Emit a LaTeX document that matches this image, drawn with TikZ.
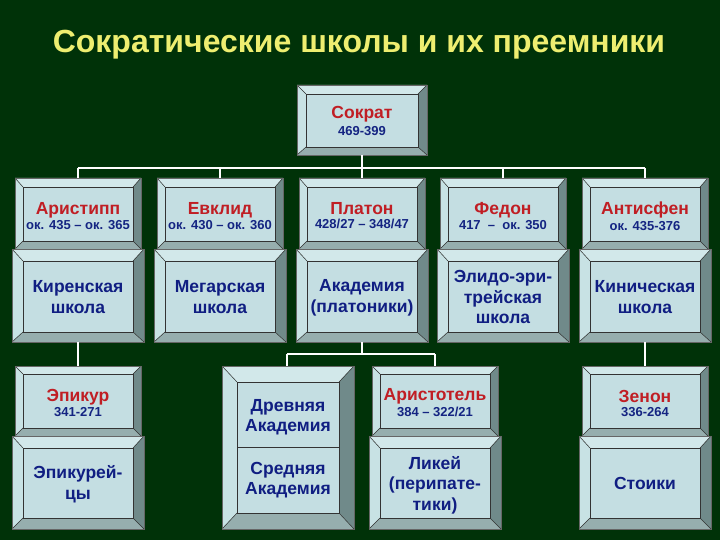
\documentclass[tikz,border=0pt]{standalone}
\usepackage{fontspec}
\setmainfont{Liberation Sans}
\usetikzlibrary{fit}
\definecolor{bg}{RGB}{0,50,8}
\definecolor{titlec}{RGB}{238,238,112}
\definecolor{facec}{RGB}{196,222,226}
\definecolor{btop}{RGB}{210,232,234}
\definecolor{bleft}{RGB}{200,226,228}
\definecolor{bright}{RGB}{112,138,138}
\definecolor{bbot}{RGB}{150,174,174}
\definecolor{namec}{RGB}{192,30,36}
\definecolor{datec}{RGB}{20,36,130}
\definecolor{schoolc}{RGB}{16,30,130}
\newcommand\nmf{\fontsize{17.5}{19}\selectfont\bfseries\color{namec}}
\newcommand\dtf{\fontsize{13}{15}\selectfont\bfseries\color{datec}}
\newcommand\scf{\fontsize{17.5}{20.5}\selectfont\bfseries\color{schoolc}}
\newcommand\bev[8]{%
  \fill[btop] (#2,#3) -- (#4,#3) -- ({#4-#6},{#3+#7}) -- ({#2+#6},{#3+#7}) -- cycle;
  \fill[bleft] (#2,#3) -- ({#2+#6},{#3+#7}) -- ({#2+#6},{#5-#8}) -- (#2,#5) -- cycle;
  \fill[bright] (#4,#3) -- ({#4-#6},{#3+#7}) -- ({#4-#6},{#5-#8}) -- (#4,#5) -- cycle;
  \fill[bbot] (#2,#5) -- ({#2+#6},{#5-#8}) -- ({#4-#6},{#5-#8}) -- (#4,#5) -- cycle;
  \draw[edge,fill=facec] ({#2+#6},{#3+#7}) rectangle ({#4-#6},{#5-#8});
  \draw[edge] (#2,#3) -- ({#2+#6},{#3+#7}) (#4,#3) -- ({#4-#6},{#3+#7})
              (#2,#5) -- ({#2+#6},{#5-#8}) (#4,#5) -- ({#4-#6},{#5-#8});
  \draw[outedge] (#2,#3) rectangle (#4,#5);
  \node[fit={(#2,#3) (#4,#5)}, inner sep=0pt] (#1) {};
}
\tikzset{
  edge/.style={draw=black!80, line width=0.5pt},
  outedge/.style={draw=black!60, line width=0.4pt},
  conn/.style={draw=white, line width=2pt},
  txt/.style={align=center, inner sep=0pt},
}
\begin{document}
\begin{tikzpicture}[x=1pt,y=-1pt]
\fill[bg] (0,0) rectangle (720,540);
\useasboundingbox (0,0) rectangle (720,540);
\node[txt, font=\fontsize{32}{36}\selectfont\bfseries, text=titlec] (title) at (359,45) {Сократические школы и их преемники};

% connector junctions
\coordinate (hl) at (78,168);
\coordinate (hr) at (645,168);
\coordinate (ml) at (287,354);
\coordinate (mr) at (435,354);

% boxes
\bev{sokrat}{297}{85}{427}{155}{9}{9}{8}
\bev{aristipp}{15}{178}{141}{249}{8}{9}{8}
\bev{evklid}{157}{178}{283}{249}{8}{9}{8}
\bev{platon}{299}{178}{425}{249}{8}{9}{8}
\bev{fedon}{440}{178}{566}{249}{8}{9}{8}
\bev{antisfen}{582}{178}{708}{249}{8}{9}{8}

\bev{kiren}{12}{249}{144}{342}{11}{12}{10}
\bev{megar}{154}{249}{286}{342}{11}{12}{10}
\bev{akad}{296}{249}{428}{342}{11}{12}{10}
\bev{elid}{437}{249}{569}{342}{11}{12}{10}
\bev{kinik}{579}{249}{711}{342}{11}{12}{10}

\bev{epikur}{15}{366}{141}{436}{8}{8}{8}
\bev{epikurei}{12}{436}{144}{529}{11}{12}{11}
\bev{drev}{222}{366}{354}{529}{15}{16}{16}
\bev{aristotel}{372}{366}{498}{436}{8}{8}{8}
\bev{likei}{369}{436}{501}{529}{11}{12}{11}
\bev{zenon}{582}{366}{708}{436}{8}{8}{8}
\bev{stoiki}{579}{436}{711}{529}{11}{12}{11}

\draw[edge] (237,447) -- (339,447);

\draw[conn] (sokrat.south) -- (sokrat.south |- hl);
\draw[conn] (hl) -- (hr);
\draw[conn] (hl) -- (aristipp.north);
\draw[conn] (evklid.north |- hl) -- (evklid.north);
\draw[conn] (platon.north |- hl) -- (platon.north);
\draw[conn] (fedon.north |- hl) -- (fedon.north);
\draw[conn] (hr) -- (antisfen.north);
\draw[conn] (kiren.south) -- (epikur.north);
\draw[conn] (akad.south) -- (akad.south |- ml);
\draw[conn] (ml) -- (mr);
\draw[conn] (ml) -- (ml |- drev.north);
\draw[conn] (mr) -- (mr |- aristotel.north);
\draw[conn] (kinik.south) -- (zenon.north);

% texts
\node[txt] (t-sokrat) at (362,121) {{\nmf Сократ}\\[3pt]{\dtf 469-399}};
\node[txt] (t-aristipp) at (78,216) {{\nmf Аристипп}\\[2pt]{\dtf ок. 435 – ок. 365}};
\node[txt] (t-evklid) at (220,216) {{\nmf Евклид}\\[2pt]{\dtf ок. 430 – ок. 360}};
\node[txt] (t-platon) at (362,216) {{\nmf Платон}\\[2pt]{\dtf 428/27 – 348/47}};
\node[txt] (t-fedon) at (503,216) {{\nmf Федон}\\[2pt]{\dtf 417 \ – \ ок. 350}};
\node[txt] (t-antisfen) at (645,216) {{\nmf Антисфен}\\[2pt]{\dtf ок. 435-376}};

\node[txt, font=\scf] (t-kiren) at (78,297) {Киренская\\школа};
\node[txt, font=\scf] (t-megar) at (220,297) {Мегарская\\школа};
\node[txt, font=\scf] (t-akad) at (362,298) {Академия\\(платоники)};
\node[txt, font=\scf] (t-elid) at (503,297) {Элидо-эри-\\трейская\\школа};
\node[txt, font=\scf] (t-kinik) at (645,297) {Киническая\\школа};

\node[txt] (t-epikur) at (78,403) {{\nmf Эпикур}\\[2pt]{\dtf 341-271}};
\node[txt] (t-aristotel) at (435,403) {{\nmf Аристотель}\\[2pt]{\dtf 384 – 322/21}};
\node[txt] (t-zenon) at (645,403) {{\nmf Зенон}\\[2pt]{\dtf 336-264}};

\node[txt, font=\scf] (t-epikurei) at (78,484) {Эпикурей-\\цы};
\node[txt, font=\scf] (t-drev) at (288,417) {Древняя\\Академия};
\node[txt, font=\scf] (t-sred) at (288,480) {Средняя\\Академия};
\node[txt, font=\scf] (t-likei) at (435,485) {Ликей\\(перипате-\\тики)};
\node[txt, font=\scf] (t-stoiki) at (645,483) {Стоики};
\end{tikzpicture}
\end{document}
